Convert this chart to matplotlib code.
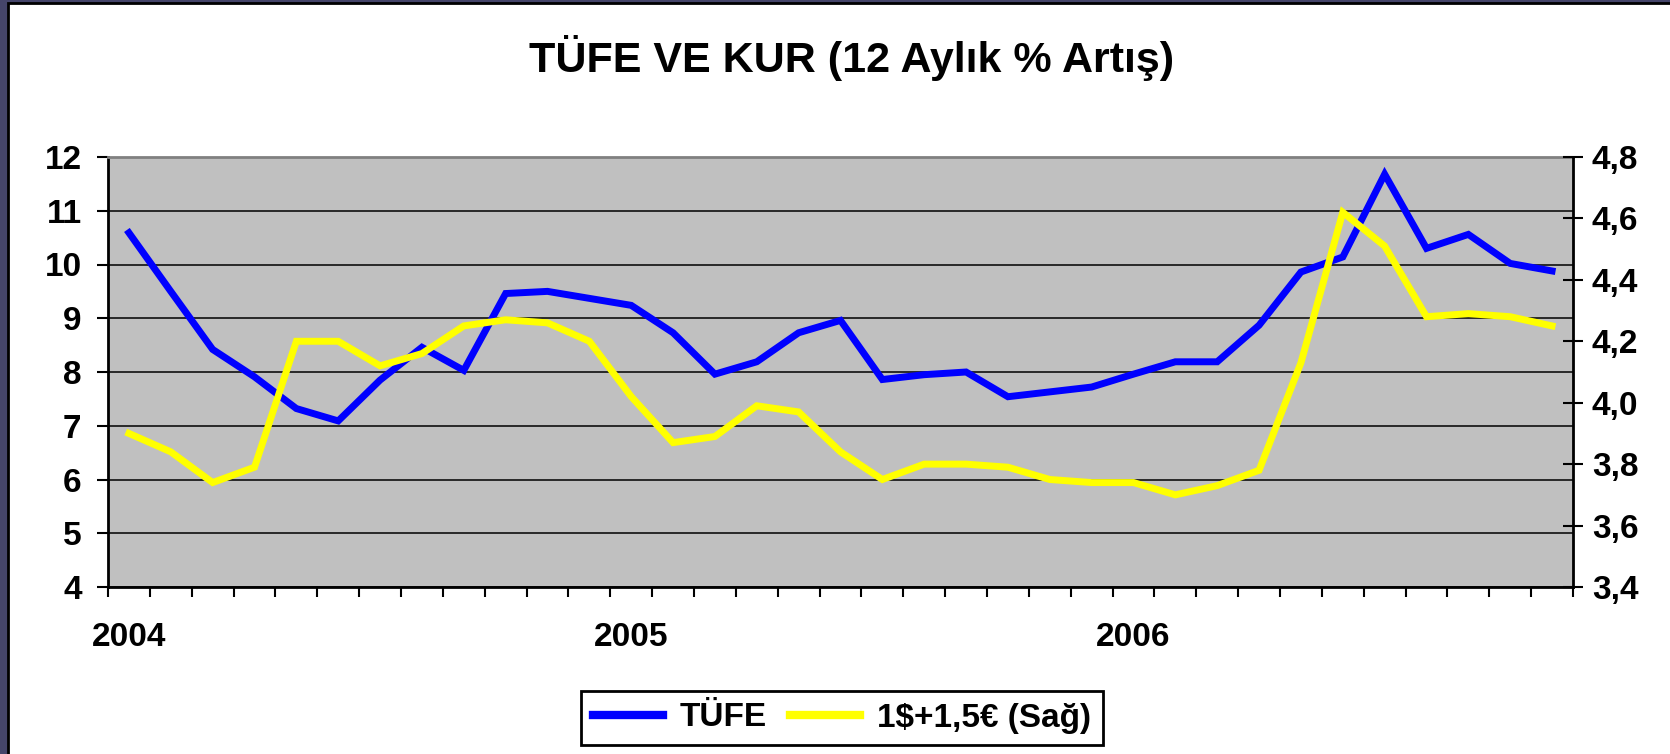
import numpy as np
import matplotlib.pyplot as plt
from matplotlib.patches import Rectangle

# aylik veriler: Ocak 2004 - Kasim 2006
tufe = [10.59, 9.50, 8.42, 7.91, 7.32, 7.09, 7.85, 8.46, 8.03,
        9.46, 9.50, 9.37, 9.24, 8.73, 7.96, 8.19, 8.73, 8.96,
        7.86, 7.95, 8.00, 7.54, 7.63, 7.72, 7.96, 8.19, 8.19,
        8.87, 9.86, 10.14, 11.68, 10.30, 10.56, 10.02, 9.88]
kur = [3.90, 3.84, 3.74, 3.79, 4.20, 4.20, 4.12, 4.16, 4.25,
       4.27, 4.26, 4.20, 4.02, 3.87, 3.89, 3.99, 3.97, 3.84,
       3.75, 3.80, 3.80, 3.79, 3.75, 3.74, 3.74, 3.70, 3.73,
       3.78, 4.13, 4.62, 4.51, 4.28, 4.29, 4.28, 4.25]
year_labels = ['2004', '2005', '2006']
year_pos = [0, 12, 24]
left_ticks = [4, 5, 6, 7, 8, 9, 10, 11, 12]
right_ticks = [3.4, 3.6, 3.8, 4.0, 4.2, 4.4, 4.6, 4.8]

W, H = 1670, 754
fig = plt.figure(figsize=(W / 100, H / 100), dpi=100)
fig.patch.set_facecolor('#45456a')
fig.patches.append(Rectangle((8 / W, -0.01), 1.02, 1 - 3 / H + 0.01,
                             transform=fig.transFigure, facecolor='white',
                             edgecolor='black', linewidth=2, zorder=-5))

ax = fig.add_axes([108 / W, 1 - 587 / H, (1573 - 108) / W, (587 - 157) / H])
ax.set_facecolor('#c0c0c0')
x = np.arange(len(tufe))

ax.plot(x, tufe, color='#0000ff', linewidth=5, label='TÜFE', solid_joinstyle='miter')
ax.set_xlim(-0.5, len(tufe) - 0.5)
ax.set_ylim(4, 12)
ax.set_yticks(left_ticks)
ax.grid(axis='y', color='black', linewidth=1.1)
ax.set_xticks(year_pos)
ax.set_xticklabels(year_labels)
ax.set_xticks(np.arange(-0.5, len(tufe), 1), minor=True)
ax.tick_params(axis='x', which='major', length=0, pad=25)
ax.tick_params(axis='x', which='minor', direction='out', length=7, width=1.5)
ax.tick_params(axis='y', direction='out', length=8, width=1.5, pad=11)

ax2 = ax.twinx()
ax2.plot(x, kur, color='#ffff00', linewidth=5, label='1$+1,5€ (Sağ)', solid_joinstyle='miter')
ax2.set_ylim(3.4, 4.8)
ax2.set_yticks(right_ticks)
ax2.set_yticklabels([f'{v:.1f}'.replace('.', ',') for v in right_ticks])
ax2.tick_params(axis='y', direction='inout', length=15, width=1.5, pad=6)

for a in (ax, ax2):
    for lab in a.get_xticklabels() + a.get_yticklabels():
        lab.set_fontsize(24)
        lab.set_fontweight('bold')
        lab.set_family(['Liberation Sans', 'DejaVu Sans'])

ax.spines['top'].set_color('#808080')
ax.spines['top'].set_linewidth(2)
ax.spines['right'].set_visible(False)
for s in ('left', 'bottom'):
    ax.spines[s].set_linewidth(2)
for s in ('top', 'left', 'bottom'):
    ax2.spines[s].set_visible(False)
ax2.spines['right'].set_linewidth(2)

fig.text(852 / W, 1 - 72 / H, 'TÜFE VE KUR (12 Aylık % Artış)', ha='center', va='baseline',
         fontsize=31, fontweight='bold', family=['Liberation Sans', 'DejaVu Sans'])

h1, l1 = ax.get_legend_handles_labels()
h2, l2 = ax2.get_legend_handles_labels()
leg = fig.legend(h1 + h2, l1 + l2, loc='center', bbox_to_anchor=(842 / W, 1 - 718 / H),
                 ncol=2, fancybox=False, framealpha=1, edgecolor='black',
                 handlelength=2.1, handletextpad=0.5, columnspacing=0.7,
                 borderpad=0.35, prop={'family': ['Liberation Sans', 'DejaVu Sans'],
                                       'weight': 'bold', 'size': 24})
leg.get_frame().set_linewidth(2)
for line in leg.get_lines():
    line.set_linewidth(6)

fig.savefig('out.png', dpi=100, facecolor=fig.get_facecolor())
